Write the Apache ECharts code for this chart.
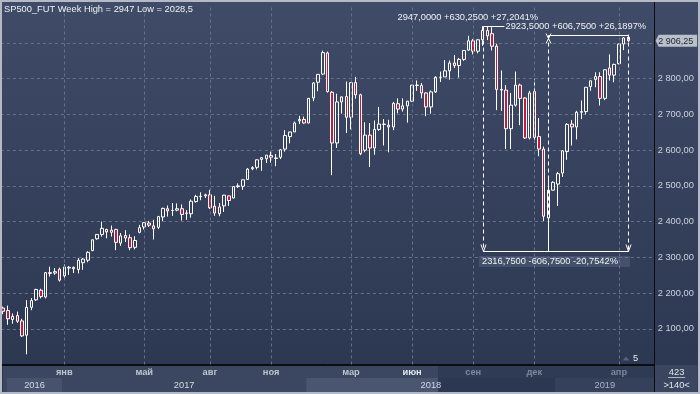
<!DOCTYPE html>
<html><head><meta charset="utf-8">
<script src="https://cdn.jsdelivr.net/npm/echarts@6/dist/echarts.min.js"></script>
<style>html,body{margin:0;padding:0;overflow:hidden;background:#34405b}#c{width:700px;height:394px}</style>
</head><body><div id="c"></div><script>
const titleText = 'SP500_FUT Week High = 2947 Low = 2028,5';
const firstWeek = '2016-10-03';
const yearSplitBar = '2019-01-02';
const openVals = [2158,2151,2126,2137,2122,2082,2160,2181,2208,2189,2257,2256,2267,
2248,2270,2272,2266,2285,2292,2319,2352,2364,2378,2370,2378,2340,2361,2355,2328,2370,2385,2396,2388,2384,2413,2436,2431,2432,2436,2424,2422,2456,2471,2472,2475,2443,2422,2444,2472,2466,2498,2499,2518,2548,2552,2574,2576,2585,2578,2580,2603,2638,2651,2682,2686,
2676,2746,2790,2813,2872,2762,2620,2735,2750,2692,2789,2755,2600,2642,2606,2658,2673,2670,2665,2730,2715,2724,2737,2782,2781,2760,2721,2763,2804,2805,2822,2844,2837,2854,2880,2906,2877,2909,2935,2926,2891,2770,2768,2660,2726,2782,2746,2634,2764,2638,2603,2410,2488,
2505,2536,2596,2673,2665,2706,2708,2778,2798,2806,2745,2830,2810,2842,2897,2916];
const highVals = [2162,2165,2143,2148,2128,2180,2186,2212,2212,2259,2274,2270,2271,
2280,2276,2274,2298,2298,2317,2350,2365,2400,2380,2389,2380,2368,2376,2364,2359,2391,2398,2402,2405,2416,2439,2445,2452,2451,2448,2432,2462,2475,2482,2478,2489,2472,2452,2475,2472,2498,2507,2518,2550,2555,2574,2580,2586,2596,2589,2603,2656,2650,2680,2696,2694,
2746,2790,2812,2878.5,2876,2765,2758,2750,2792,2790,2805,2758,2678,2676,2683,2721,2687,2685,2735,2745,2745,2738,2782,2795,2788,2762,2767,2807,2820,2852,2851,2866,2858,2880,2920,2911,2911,2947,2945,2944,2898,2823,2782,2760,2820,2786,2748,2766,2800,2690,2610,2520,2513,
2539,2600,2676,2684,2710,2739,2776,2795,2818,2818,2826,2868,2842,2898,2917,2923.5];
const lowVals = [2141,2111,2114,2116,2077,2028.5,2152,2178,2185,2185,2246,2251,2232,
2242,2251,2256,2255,2265,2286,2317,2349,2358,2353,2358,2320,2332,2343,2320,2322,2367,2378,2385,2350,2379,2401,2414,2416,2429,2403,2405,2411,2453,2460,2466,2435,2416,2415,2427,2444,2465,2494,2489,2517,2544,2546,2542,2564,2565,2555,2575,2596,2619,2651,2673,2674,
2675,2737,2765,2810,2761,2530,2606,2702,2648,2658,2744,2586,2594,2553,2587,2654,2613,2594,2656,2703,2708,2677,2735,2766,2745,2695,2702,2760,2791,2805,2797,2830,2803,2850,2878,2868,2871,2892,2908,2879,2712,2710,2603,2603,2722,2670,2631,2630,2621,2583,2402,2316.75,2487,
2444,2525,2573,2613,2630,2687,2700,2766,2776,2725,2740,2795,2790,2840,2880,2903];
const closeVals = [2149,2128,2135,2121,2080,2160,2179,2210,2190,2257,2255,2260,2236,
2273,2272,2268,2292,2295,2314,2349,2364,2381,2371,2376,2342,2360,2354,2327,2347,2383,2397,2390,2380,2414,2437,2430,2431,2436,2420,2423,2457,2470,2470,2475,2439,2424,2441,2474,2459,2498,2500,2517,2547,2551,2573,2579,2586,2580,2577,2601,2641,2651,2676,2686,2676,
2745,2788,2812,2873,2764,2620,2735,2749,2692,2789,2755,2590,2642,2606,2658,2673,2672,2665,2731,2715,2724,2737,2782,2781,2760,2721,2763,2804,2804,2822,2844,2837,2854,2879,2906,2877,2909,2935,2920,2891,2770,2768,2660,2726,2782,2745,2634,2760,2636,2603,2415,2488,2510,
2534,2598,2672,2665,2706,2708,2776,2794,2806,2745,2825,2810,2840,2897,2914,2906.25];
const gridMonths = ['2017-01','2017-05','2017-08','2017-11','2018-03','2018-06','2018-09','2018-12','2019-04'];
const monthNames = ['янв','май','авг','ноя','мар','июн','сен','дек','апр'];
const yearLabels = ['2016','2017','2018','2019'];
const shadeFromWeek = '2018-07-16';
const barsTotalText = '423';
const barsWindowText = '>140<';
const markerText = '5';

const FONT = 'Liberation Sans';
const FS = 9.3;
const N_CATS = 139;
const GRID = {left: 0.85, width: 653.3, top: 7.24, height: 357.26};

// weekly bar dates (terminal splits the week at the new year)
const dates = [];
let d = new Date(firstWeek + 'T00:00:00Z');
while (dates.length < openVals.length) {
  const s = d.toISOString().slice(0, 10);
  dates.push(s);
  if (s === '2018-12-31') dates.push(yearSplitBar);
  d = new Date(d.getTime() + 7 * 864e5);
}
const cats = dates.slice();
for (let k = 0; cats.length < N_CATS; k++) cats.push('pad' + k);

const ohlc = dates.map((_, i) => [openVals[i], closeVals[i], lowVals[i], highVals[i]]);

function fmt2(v) {
  const s = v.toFixed(2).split('.');
  return s[0].replace(/\B(?=(\d{3})+(?!\d))/g, ' ') + ',' + s[1];
}
const fmt4 = v => v.toFixed(4).replace('.', ',');
const sgn = v => (v >= 0 ? '+' : '-') + fmt4(Math.abs(v));

const monthIdx = gridMonths.map(m => dates.findIndex(s => s.slice(0, 7) === m));
const yearIdx = yearLabels.map(y => dates.findIndex(s => s.slice(0, 4) === y));
const shadeIdx = dates.indexOf(shadeFromWeek);
const lastClose = closeVals[closeVals.length - 1];

// measure tool points: top, bottom after it, top after bottom
let iA = 0; highVals.forEach((h, i) => { if (h > highVals[iA]) iA = i; });
let iB = iA; for (let i = iA; i < lowVals.length; i++) if (lowVals[i] < lowVals[iB]) iB = i;
let iC = iB; for (let i = iB; i < highVals.length; i++) if (highVals[i] > highVals[iC]) iC = i;
const vA = highVals[iA], vB = lowVals[iB], vC = highVals[iC];

const chart = echarts.init(document.getElementById('c'), null, {renderer: 'canvas'});
const monthMarks = monthIdx.map((idx, k) => ({
  xAxis: idx,
  label: {formatter: monthNames[k], color: idx >= shadeIdx ? '#7d889e' : (k === 5 ? '#e3e8ef' : '#bcc4d2')}
}));
chart.setOption({
  animation: false,
  backgroundColor: {type: 'linear', x: 0, y: 0, x2: 0, y2: 1,
    colorStops: [{offset: 0, color: '#3f4b67'}, {offset: 1, color: '#2b3650'}]},
  grid: Object.assign({outerBoundsMode: 'none', containLabel: false}, GRID),
  xAxis: {type: 'category', data: cats, boundaryGap: true,
    axisLine: {show: true, lineStyle: {color: '#0c0d10', width: 1}},
    axisTick: {show: false}, axisLabel: {show: false}, splitLine: {show: false}},
  yAxis: {type: 'value', position: 'right', min: 2000, max: 3000, interval: 100, scale: true,
    axisLine: {show: true, lineStyle: {color: '#0c0d10', width: 1}},
    axisTick: {show: false},
    axisLabel: {margin: 3.5, color: '#cbd2de', fontSize: FS, fontFamily: FONT,
      formatter: v => (v < 2100 || v > 2800) ? '' : fmt2(v)},
    splitLine: {show: true, showMinLine: false, showMaxLine: false,
      lineStyle: {color: '#66718c', type: [3, 3], width: 1}}},
  series: [{
    type: 'candlestick', data: ohlc, barWidth: 3,
    itemStyle: {color: 'rgba(0,0,0,0)', color0: '#c8193c', borderColor: '#ffffff',
      borderColor0: '#ffffff', borderColorDoji: '#ffffff', borderWidth: 1},
    markLine: {
      silent: true, symbol: ['none', 'none'], animation: false,
      lineStyle: {color: '#66718c', type: [3, 3], width: 1},
      label: {show: true, position: 'start', distance: 3, fontSize: FS, fontFamily: FONT, fontWeight: 'bold'},
      data: monthMarks
    }
  }]
});

const P = (i, v) => chart.convertToPixel({xAxisIndex: 0, yAxisIndex: 0}, [i, v]);
const bw = P(1, 2500)[0] - P(0, 2500)[0];
const edge = i => P(i, 2500)[0] - bw / 2;
const gl = GRID.left, gr = GRID.left + GRID.width, gb = GRID.top + GRID.height;
const rowMid = gb + 13.5, rowBot = 392;
const g = [];
const rect = (x, y, w, h, fill, z) => g.push({type: 'rect', z: z || 0, silent: true, shape: {x, y, width: w, height: h}, style: {fill}});
const line = (x1, y1, x2, y2, stroke, dash, z) => g.push({type: 'line', z: z || 5, silent: true,
  shape: {x1, y1, x2, y2}, style: {stroke, lineWidth: 1, lineDash: dash || null}});
const text = (x, y, t, fill, align, opt) => g.push(Object.assign({type: 'text', z: 20, silent: true,
  style: Object.assign({x, y, text: t, fill, fontSize: FS, fontFamily: FONT, textAlign: align || 'left', textVerticalAlign: 'middle'}, (opt || {}))}));

// bottom time band
const yB0 = edge(yearIdx[1]), yB1 = edge(yearIdx[2]), yB2 = edge(yearIdx[3]);
const sh = edge(shadeIdx);
rect(3, gb + 0.5, gr - 3, rowBot - gb, '#3b4761');
rect(7, rowMid, yB0 - 7, rowBot - rowMid, '#47536c');
rect(yB1, rowMid, yB2 - yB1, rowBot - rowMid, '#4a5670');
rect(sh, gb + 0.5, gr - sh, rowMid - gb - 0.5, '#2f3b55');
rect(sh, rowMid, yB2 - sh, rowBot - rowMid, '#2c3852');
rect(yB2, rowMid, gr - yB2, rowBot - rowMid, '#35415b');
rect(gr + 0.5, gb + 0.5, 697 - gr, rowBot - gb, '#3a4660');
const yc = rowMid + 7;
text((7 + yB0) / 2, yc, yearLabels[0], '#d4dae4', 'center');
text((yB0 + yB1) / 2, yc, yearLabels[1], '#d4dae4', 'center');
text((yB1 + yB2) / 2, yc, yearLabels[2], '#d4dae4', 'center');
text((yB2 + gr) / 2, yc, yearLabels[3], '#aab3c3', 'center');
// right-bottom counters
text((gr + 699) / 2, gb + 7.5, barsTotalText, '#e0e5ec', 'center');
line(gr + 14, rowMid - 0.5, gr + 31, rowMid - 0.5, '#aeb6c4', null, 20);
text((gr + 699) / 2, rowMid + 7, barsWindowText, '#e0e5ec', 'center');
// axis separators
line(Math.round(gr) + 0.5, 2, Math.round(gr) + 0.5, rowBot, '#0c0d10', null, 6);
line(2, Math.round(gb) + 0.5, gr, Math.round(gb) + 0.5, '#0c0d10', null, 6);

// last price box on the value axis
const lastY = P(dates.length - 1, lastClose)[1];
g.push({type: 'polygon', z: 19, silent: true,
  shape: {points: [[gr + 1.5, lastY], [gr + 4.5, lastY - 6], [gr + 43, lastY - 6], [gr + 43, lastY + 6], [gr + 4.5, lastY + 6]]},
  style: {fill: '#bac0ca'}});
text(gr + 4, lastY + 0.5, fmt2(lastClose), '#1b2331', 'left', {fontSize: 9});

// title
text(4, 9, titleText, '#eef1f6', 'left');

// measure tool
const A = P(iA, vA), B = P(iB, vB), C = P(iC, vC);
const ax = Math.round(A[0]) + 0.5, bx = Math.round(B[0]) + 0.5, cx = Math.round(C[0]) + 0.5;
const ay = Math.round(A[1]) + 0.5, by = Math.round(B[1]) + 0.5, cy = Math.round(C[1]) + 0.5;
line(ax, ay, bx, ay, '#ffffff');
line(bx, cy, cx, cy, '#ffffff');
line(ax, by, cx, by, '#ffffff');
line(ax, ay, ax, by, '#ffffff', [4, 3]);
line(cx, cy, cx, by, '#ffffff', [4, 3]);
line(bx, cy, bx, by, '#ffffff', [4, 3]);
const chev = (x, y, dir) => g.push({type: 'polyline', z: 6, silent: true,
  shape: {points: [[x - 2.5, y - 7 * dir], [x, y], [x + 2.5, y - 7 * dir]]}, style: {stroke: '#ffffff', lineWidth: 1, fill: null}});
chev(ax, by, 1); chev(cx, by, 1);
line(bx - 2.5, cy - 2, bx + 2.5, cy + 8, '#ffffff');
line(bx + 2.5, cy - 2, bx - 2.5, cy + 8, '#ffffff');
text(ax - 86, ay - 9, fmt4(vA) + ' ' + sgn(vA - vB) + ' ' + sgn((vA - vB) / vB * 100) + '%', '#eef1f6');
text(ax + 21, cy - 9, fmt4(vC) + ' ' + sgn(vC - vB) + ' ' + sgn((vC - vB) / vB * 100) + '%', '#eef1f6', 'left',
  {backgroundColor: '#3e4a66', padding: [0, 1]});
rect(ax - 4.5, by + 4.5, cx - ax + 6, 11, 'rgba(120,132,156,0.28)', 15);
text(ax - 1.5, by + 10, fmt4(vB) + ' ' + sgn(vB - vC) + ' ' + sgn((vB - vC) / vC * 100) + '%', '#eef1f6');
// bar-count marker
g.push({type: 'polygon', z: 6, silent: true, shape: {points: [[cx - 6, gb - 4], [cx - 2.5, gb - 8], [cx + 1, gb - 4]]}, style: {fill: '#56627c'}});
text(cx + 7, gb - 6, markerText, '#e8ecf2', 'center');
// frame
g.push({type: 'rect', z: 30, silent: true, shape: {x: 1, y: 1, width: 698, height: 392}, style: {fill: null, stroke: '#b3bac6', lineWidth: 2}});
chart.setOption({graphic: g});
</script></body></html>
